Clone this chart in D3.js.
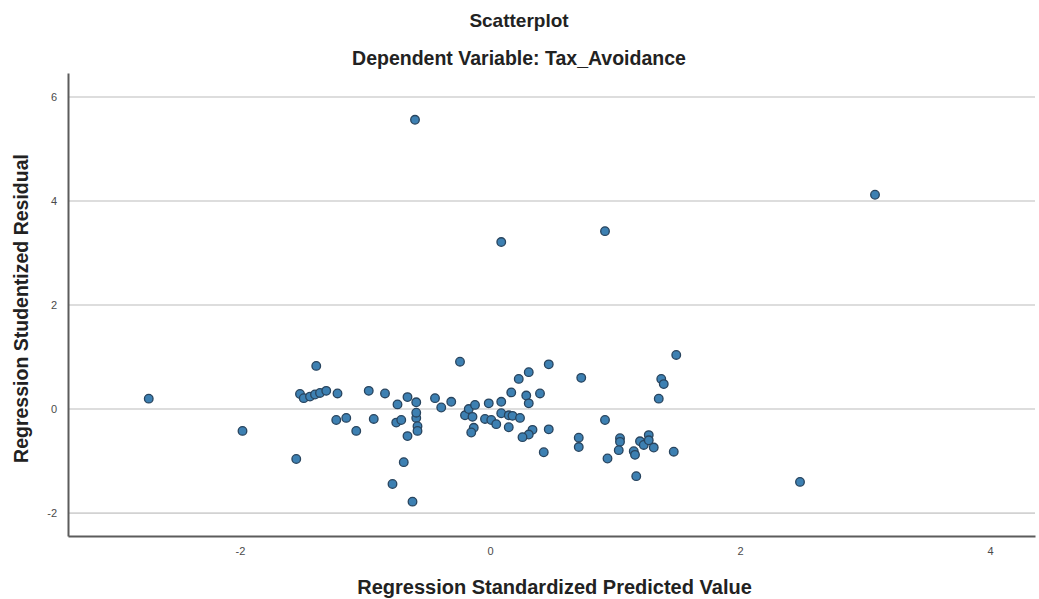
<!DOCTYPE html>
<html>
<head>
<meta charset="utf-8">
<script src="https://cdn.jsdelivr.net/npm/d3@7"></script>
<style>
  body { margin: 0; background: #fff; }
  text { font-family: "Liberation Sans", Arial, sans-serif; }
</style>
</head>
<body>
<div id="chart"></div>
<script>
// Regression Standardized Predicted Value (x) / Studentized Residual (y)
var predicted = [
  -2.73, -1.39, -1.52, -1.49, -1.44, -1.40, -1.36, -1.31, -1.22, -0.97,
  -0.84, -0.74, -1.98, -1.23, -1.15, -0.93, -1.07, -0.75, -1.55, -0.78,
  -0.24, 0.47, 0.31, 0.23, 0.73, 1.49, 1.37, 1.39, 1.35, -0.66,
  -0.59, -0.44, -0.39, -0.31, -0.20, -0.17, -0.12, -0.14, -0.01, 0.09,
  0.17, 0.29, 0.40, 0.31, 0.09, 0.15, 0.18, 0.24, -0.04, 0.01,
  0.05, 0.15, -0.13, -0.15, 0.34, 0.31, 0.26, 0.47, 0.43, -0.71,
  -0.59, -0.59, -0.58, -0.58, -0.66, -0.69, -0.62, 0.71, 0.71, 0.92,
  0.94, 1.04, 1.04, 1.03, 1.15, 1.16, 1.20, 1.23, 1.27, 1.27,
  1.31, 1.17, 1.47, -0.60, 0.09, 0.92, 3.08, 2.48
];
var residual = [
  0.20, 0.83, 0.29, 0.21, 0.24, 0.28, 0.31, 0.35, 0.30, 0.35,
  0.30, 0.09, -0.42, -0.21, -0.17, -0.19, -0.42, -0.26, -0.96, -1.44,
  0.91, 0.86, 0.71, 0.58, 0.60, 1.04, 0.58, 0.48, 0.20, 0.23,
  0.13, 0.21, 0.03, 0.14, -0.12, 0.00, 0.08, -0.15, 0.11, 0.14,
  0.32, 0.26, 0.30, 0.11, -0.08, -0.12, -0.13, -0.17, -0.19, -0.21,
  -0.29, -0.35, -0.36, -0.45, -0.40, -0.49, -0.54, -0.39, -0.83, -0.21,
  -0.17, -0.07, -0.33, -0.42, -0.52, -1.02, -1.78, -0.55, -0.73, -0.21,
  -0.95, -0.56, -0.63, -0.79, -0.81, -0.88, -0.62, -0.69, -0.50, -0.60,
  -0.74, -1.29, -0.82, 5.56, 3.21, 3.42, 4.12, -1.40
];
var xTicks = [-2, 0, 2, 4];
var yTicks = [-2, 0, 2, 4, 6];

var points = predicted.map(function (d, i) {
  return { x: d, y: residual[i] };
});

var svgWidth = 1039;
var svgHeight = 599;
var margin = { top: 73, right: 4, bottom: 63, left: 68 };
var width = svgWidth - margin.left - margin.right;
var height = svgHeight - margin.top - margin.bottom;

var svg = d3.select("#chart")
  .append("svg")
  .attr("width", svgWidth)
  .attr("height", svgHeight);

var chartGroup = svg.append("g")
  .attr("transform", `translate(${margin.left}, ${margin.top})`);

var xScale = d3.scaleLinear()
  .domain([-3.376, 4.36])
  .range([0, width]);
var yScale = d3.scaleLinear()
  .domain([-2.44, 6.46])
  .range([height, 0]);

// horizontal grid lines
chartGroup.append("g")
  .selectAll("line")
  .data(yTicks)
  .enter()
  .append("line")
  .attr("x1", 0)
  .attr("x2", width)
  .attr("y1", d => yScale(d))
  .attr("y2", d => yScale(d))
  .attr("stroke", "#d2d2d2")
  .attr("stroke-width", 1.6);

// axes (plain hyphen for negatives, like the SPSS output)
var bottomAxis = d3.axisBottom(xScale).tickValues(xTicks).tickSize(0).tickPadding(11)
  .tickFormat(d => String(d));
var leftAxis = d3.axisLeft(yScale).tickValues(yTicks).tickSize(0).tickPadding(11)
  .tickFormat(d => String(d));

var xAxisG = chartGroup.append("g")
  .attr("transform", `translate(0, ${height})`)
  .call(bottomAxis);
var yAxisG = chartGroup.append("g")
  .call(leftAxis);

[xAxisG, yAxisG].forEach(function (g) {
  g.select(".domain").attr("stroke", "#5c5c5c").attr("stroke-width", 2);
  g.selectAll("text")
    .attr("fill", "#4a4a4a")
    .attr("font-size", "11px")
    .style("font-family", "'Liberation Sans', Arial, sans-serif");
});

// points
chartGroup.append("g")
  .selectAll("circle")
  .data(points)
  .enter()
  .append("circle")
  .attr("cx", d => xScale(d.x))
  .attr("cy", d => yScale(d.y))
  .attr("r", 4.3)
  .attr("fill", "#3d80b2")
  .attr("stroke", "#28445e")
  .attr("stroke-width", 1.3);

// titles
svg.append("text")
  .attr("x", 519)
  .attr("y", 27)
  .attr("text-anchor", "middle")
  .attr("font-size", "19px")
  .attr("font-weight", "bold")
  .attr("fill", "#222")
  .text("Scatterplot");

svg.append("text")
  .attr("x", 519)
  .attr("y", 65)
  .attr("text-anchor", "middle")
  .attr("font-size", "19.5px")
  .attr("font-weight", "bold")
  .attr("fill", "#222")
  .text("Dependent Variable: Tax_Avoidance");

// axis labels
svg.append("text")
  .attr("x", margin.left + width / 2 + 3)
  .attr("y", 594)
  .attr("text-anchor", "middle")
  .attr("font-size", "20px")
  .attr("font-weight", "bold")
  .attr("fill", "#222")
  .text("Regression Standardized Predicted Value");

svg.append("text")
  .attr("transform", `translate(28, ${margin.top + height / 2 + 4}) rotate(-90)`)
  .attr("text-anchor", "middle")
  .attr("font-size", "19.5px")
  .attr("font-weight", "bold")
  .attr("fill", "#222")
  .text("Regression Studentized Residual");
</script>
</body>
</html>
